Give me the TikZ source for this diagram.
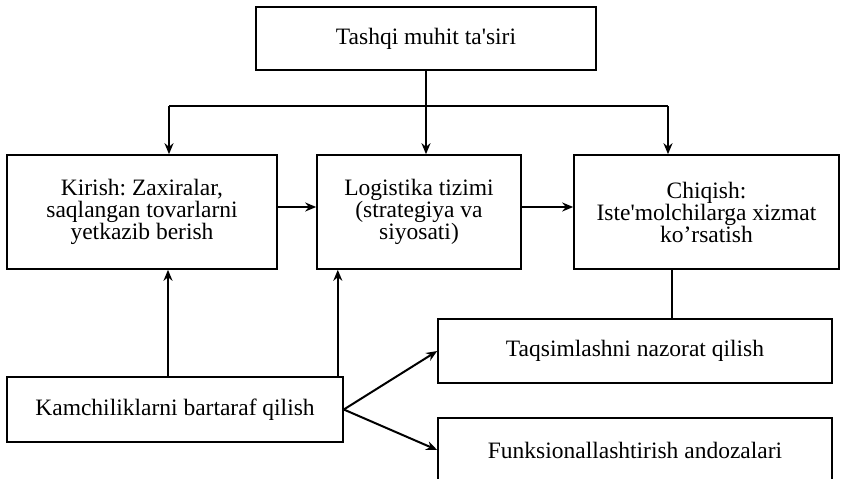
\documentclass[tikz,border=0pt]{standalone}
\usepackage{fontspec}
\setmainfont{Liberation Serif}
\usepackage{tikz}
\usetikzlibrary{arrows.meta,positioning}
\frenchspacing

\begin{document}
\begin{tikzpicture}[x=1pt,y=-1pt,>={Stealth[length=11pt,width=9pt]}]
		\tikzstyle{block}=[rectangle, draw=black, line width=1.6pt, align=center, inner sep=0pt, font=\fontsize{23.5}{22}\selectfont]
		\tikzstyle{link}=[line width=2pt]
		\useasboundingbox (0,0) rectangle (841,479);
		
		% Top
		\node[block, minimum width=340, minimum height=63] at (426, 38.5) (ext) {Tashqi muhit ta\textquotesingle siri};
		
		% Middle row
		\node[block, minimum width=270, minimum height=114] at (142, 212) (input) {Kirish: Zaxiralar,\\saqlangan tovarlarni\\yetkazib berish};
		\node[block, minimum width=204, minimum height=114] at (419, 212) (system) {Logistika tizimi\\(strategiya va\\siyosati)};
		\node[block, minimum width=265, minimum height=114] at (706.5, 212) (output) {Chiqish:\\Iste\textquotesingle molchilarga xizmat\\ko’rsatish};
		
		% Bottom
		\node[block, minimum width=336, minimum height=65] at (175, 409.5) (fix) {Kamchiliklarni bartaraf qilish};
		\node[block, minimum width=394, minimum height=64] at (635, 351) (dist) {Taqsimlashni nazorat qilish};
		\node[block, minimum width=394, minimum height=64] at (635, 450) (func) {Funksionallashtirish andozalari};
		
		% Top -> middle row
		\coordinate (split_l) at (169, 106);
		\coordinate (split_r) at (668, 106);
		\draw [link] (split_l) -- (split_r);
		\draw [link, ->] (ext.south) -- (ext.south |- system.north);
		\draw [link, ->] (split_l) -- (split_l |- input.north);
		\draw [link, ->] (split_r) -- (split_r |- output.north);
		
		% Along the middle row
		\draw [link, ->] ([yshift=5]input.east) -- ([yshift=5]system.west);
		\draw [link, ->] ([yshift=5]system.east) -- ([yshift=5]output.west);
		
		% Bottom -> middle row
		\draw [link, ->] ([xshift=-7]fix.north) -- ([xshift=-7]fix.north |- input.south);
		\draw [link, ->] ([xshift=-6]fix.north east) -- ([xshift=-6]fix.north east |- system.south);
		\draw [line width=1.5pt] ([xshift=37]dist.north) -- ([xshift=37]dist.north |- output.south);
		\draw [link, ->] (fix.east) -- (dist.west);
		\draw [link, ->] (fix.east) -- (func.west);
\end{tikzpicture}
\end{document}
